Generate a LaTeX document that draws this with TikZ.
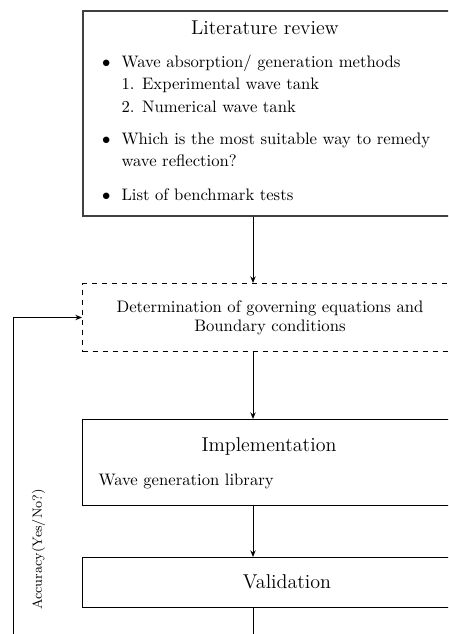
\documentclass[tikz,border=0pt]{standalone}
\usetikzlibrary{arrows.meta,positioning}
\begin{document}
\begin{tikzpicture}[x=0.6pt,y=-0.6pt,>={Stealth[length=4pt,width=3.2pt]},line width=0.6pt,font=\normalsize,
  block/.style={draw,rectangle,anchor=north west,inner sep=0pt,minimum width=226.8pt},
  mainblock/.style={block,draw=black!75,line width=1.2pt},
  govblock/.style={block,dashed},
  title/.style={font=\large,anchor=base,inner sep=0pt}]
  \useasboundingbox (0,0) rectangle (448,634);
  \clip (0,0) rectangle (448,634);

  % 方框
  \node[mainblock,minimum height=123pt] (lit) at (82,10) {};
  \node[govblock,minimum height=40.8pt] (gov) at (82,283) {};
  \node[block,minimum height=51.6pt] (impl) at (82,419) {};
  \node[block,minimum height=30pt] (valid) at (82,557) {};

  % 方框文字
  \node[title] (littitle) at (265,35) {Literature review};
  \node[anchor=base west,inner sep=0pt,align=left,font=\fontsize{10pt}{13.6pt}\selectfont] (litlist) at (101.5,200.7) {%
    \makebox[11.7pt][l]{$\bullet$}Wave absorption/ generation methods\\
    \hspace*{11.7pt}1.\hspace{4.6pt}Experimental wave tank\\
    \hspace*{11.7pt}2.\hspace{4.6pt}Numerical wave tank\\[5.4pt]
    \makebox[11.7pt][l]{$\bullet$}Which is the most suitable way to remedy\\
    \hspace*{11.7pt}wave reflection?\\[6.8pt]
    \makebox[11.7pt][l]{$\bullet$}List of benchmark tests};
  \node[anchor=base,inner sep=0pt,align=center,font=\fontsize{10pt}{11.4pt}\selectfont] (govtext) at (270,331.7)
    {Determination of governing equations and\\ Boundary conditions};
  \node[title] (impltitle) at (269,451.7) {Implementation};
  \node[anchor=base west,inner sep=0pt] (impltext) at (98,485) {Wave generation library};
  \node[title] (validtitle) at (287,588) {Validation};

  % 箭头
  \coordinate (col) at (253,0);
  \coordinate (bottom) at (253,650);
  \coordinate (loop) at (13,650);
  \draw[->] (lit.south -| col) -- (gov.north -| col);
  \draw[->] (gov.south -| col) -- (impl.north -| col);
  \draw[->] (impl.south -| col) -- (valid.north -| col);
  \draw (valid.south -| col) -- (bottom);
  \draw[->] (loop) |- (gov.west);

  % 反馈标注
  \node[rotate=90,font=\footnotesize] (acc) at (38.5,549.5) {Accuracy(Yes/No?)};
\end{tikzpicture}
\end{document}
